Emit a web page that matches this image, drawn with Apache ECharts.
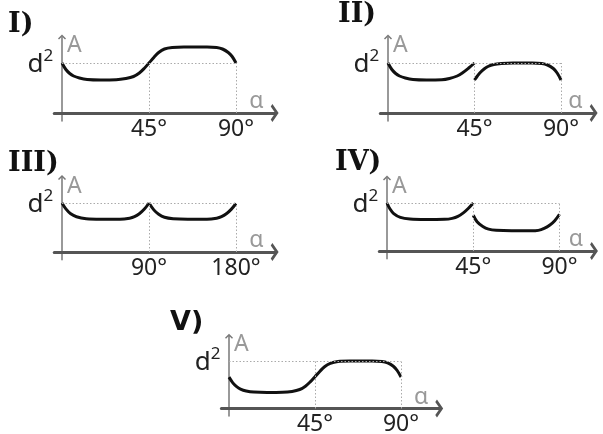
<!DOCTYPE html>
<html>
<head>
<meta charset="utf-8">
<script src="https://cdn.jsdelivr.net/npm/echarts@6/dist/echarts.min.js"></script>
<style>
  html, body { margin: 0; padding: 0; background: #fff; }
  #chart { width: 603px; height: 434px; }
</style>
</head>
<body>
<div id="chart"></div>
<script>
// panel titles
const panelNames = ['I)', 'II)', 'III)', 'IV)', 'V)'];

// tick labels on the α axis
const ticksQuarter = [45, 90];
const ticksHalf = [90, 180];
const levelD2 = 1;

// curves: [α in degrees, A in units of d²]
const curveI = [[0, 1.0], [2, 0.87], [4, 0.79], [6, 0.74], [9, 0.7], [13, 0.67], [20, 0.66], [28, 0.665], [33, 0.69], [37, 0.73], [40, 0.8], [42.5, 0.89], [45, 1.0], [47.5, 1.11], [50, 1.21], [53, 1.28], [57, 1.31], [63, 1.32], [75, 1.32], [80, 1.31], [83, 1.28], [86, 1.21], [88, 1.13], [90, 1.0]];

const curveIIa = [[0, 1.0], [2, 0.87], [4, 0.79], [6, 0.74], [9, 0.7], [13, 0.67], [20, 0.66], [28, 0.665], [32, 0.69], [36, 0.74], [39, 0.81], [42, 0.9], [45, 1.0]];
const curveIIb = [[45, 0.66], [46.5, 0.74], [48, 0.81], [50, 0.88], [52, 0.93], [55, 0.97], [59, 0.99], [65, 1.0], [75, 1.0], [80, 0.99], [83, 0.96], [86, 0.89], [88, 0.8], [90, 0.66]];

const curveIIIa = [[0, 1.0], [4, 0.88], [9, 0.78], [15, 0.72], [25, 0.68], [40, 0.67], [60, 0.67], [70, 0.69], [75, 0.72], [80, 0.78], [85, 0.87], [90, 1.0]];
const curveIIIb = [[90, 1.0], [95, 0.86], [100, 0.77], [106, 0.71], [115, 0.68], [130, 0.67], [150, 0.67], [160, 0.69], [165, 0.72], [170, 0.78], [175, 0.87], [180, 0.99]];

const curveIVa = [[0, 1.0], [1.5, 0.88], [3.5, 0.78], [7, 0.7], [12, 0.665], [20, 0.655], [30, 0.66], [34, 0.68], [37, 0.72], [40, 0.8], [42.5, 0.89], [45, 1.0]];
const curveIVb = [[45, 0.745], [47, 0.61], [50, 0.51], [53, 0.455], [57, 0.43], [65, 0.42], [75, 0.42], [79, 0.43], [82, 0.47], [85, 0.54], [87.5, 0.63], [90, 0.765]];

const curveV = [[0, 0.66], [2, 0.54], [4, 0.46], [6, 0.41], [9, 0.37], [13, 0.345], [20, 0.335], [28, 0.34], [33, 0.36], [37, 0.4], [40, 0.47], [42.5, 0.56], [45, 0.67], [47.5, 0.78], [50, 0.88], [53, 0.95], [57, 0.99], [63, 1.0], [75, 1.0], [80, 0.99], [83, 0.96], [86, 0.89], [88, 0.8], [90, 0.66]];

// where each little plot sits (pixel anchors of the origin, last tick and the d² level)
const panels = [
  { segs: [curveI], ticks: ticksQuarter, x0: 62, xTick: 236, y0: 113, y1: 63, xMin: -4, xMax: 110, tx: 8, ty: 11, serif: true },
  { segs: [curveIIa, curveIIb], ticks: ticksQuarter, x0: 388, xTick: 561, y0: 113, y1: 63, xMin: -4, xMax: 107, tx: 338, ty: 1, serif: true },
  { segs: [curveIIIa, curveIIIb], ticks: ticksHalf, x0: 62, xTick: 236, y0: 252, y1: 203, xMin: -8, xMax: 220, tx: 8, ty: 150, serif: true },
  { segs: [curveIVa, curveIVb], ticks: ticksQuarter, x0: 387, xTick: 559.5, y0: 251, y1: 203, xMin: -4, xMax: 108, tx: 335, ty: 149, serif: true },
  { segs: [curveV], ticks: ticksQuarter, x0: 229, xTick: 401, y0: 408.5, y1: 361, xMin: -4, xMax: 110, tx: 170, ty: 309, serif: false }
];
const yMin = -0.16, yMax = 1.52;

const chevronX = 'path://M8,0 L16,5.5 L13.8,7 L8,3 L2.2,7 L0,5.5 Z';
const chevronY = 'path://M4,0 L8,4 L7,5 L4,2 L1,5 L0,4 Z';
const font = 'Noto Sans';

const grids = [], xAxes = [], yAxes = [], series = [], titles = [];

panels.forEach((p, i) => {
  const last = p.ticks[p.ticks.length - 1];
  const s = (p.xTick - p.x0) / last;
  const u = p.y0 - p.y1;
  grids.push({
    left: p.x0 + p.xMin * s,
    width: (p.xMax - p.xMin) * s,
    top: p.y0 - yMax * u,
    height: (yMax - yMin) * u,
    containLabel: false,
    outerBoundsMode: 'none'
  });
  xAxes.push({
    gridIndex: i, type: 'value', min: p.xMin, max: p.xMax,
    name: 'α', nameLocation: 'end', nameGap: -11,
    nameTextStyle: { color: '#999', fontSize: 23, fontFamily: font, align: 'right', verticalAlign: 'bottom' },
    axisLine: { onZero: true, symbol: ['none', chevronX], symbolSize: [18, 8], lineStyle: { color: '#555', width: 3 } },
    axisTick: { show: false },
    splitLine: { show: false },
    axisLabel: { customValues: p.ticks, formatter: v => v + '°', color: '#222', fontSize: 23, fontFamily: font, margin: -3 }
  });
  yAxes.push({
    gridIndex: i, type: 'value', min: yMin, max: yMax,
    name: 'A', nameLocation: 'end', nameGap: 3,
    nameTextStyle: { color: '#999', fontSize: 23, fontFamily: font, align: 'left', verticalAlign: 'top', padding: [0, 0, 0, 5] },
    axisLine: { onZero: true, symbol: ['none', chevronY], symbolSize: [8, 5], lineStyle: { color: '#777', width: 1.5 } },
    axisTick: { show: false },
    splitLine: { show: false },
    axisLabel: {
      customValues: [levelD2], formatter: () => '{b|d}{s|2}', margin: 1,
      rich: {
        b: { color: '#222', fontSize: 26, fontFamily: font, padding: [4, 0, 0, 0] },
        s: { color: '#222', fontSize: 17, fontFamily: font, verticalAlign: 'top' }
      }
    }
  });
  p.segs.forEach((seg, k) => {
    const ser = {
      type: 'line', xAxisIndex: i, yAxisIndex: i, data: seg,
      smooth: 0.35, showSymbol: false, silent: true,
      lineStyle: { color: '#111', width: 3 }
    };
    if (k === 0) {
      ser.markLine = {
        silent: true, symbol: 'none', label: { show: false },
        lineStyle: { color: '#aaa', width: 1, type: [1.5, 2] },
        data: [[{ coord: [0, levelD2] }, { coord: [last, levelD2] }]].concat(
          p.ticks.map(t => [{ coord: [t, 0] }, { coord: [t, levelD2] }]))
      };
    }
    series.push(ser);
  });
  titles.push({
    text: panelNames[i], left: p.tx, top: p.ty, padding: 0,
    textStyle: { fontFamily: p.serif ? 'DejaVu Serif' : 'DejaVu Sans', fontWeight: 'bold', fontSize: 27, color: '#111' }
  });
});

const chart = echarts.init(document.getElementById('chart'), null, { renderer: 'canvas' });
chart.setOption({
  animation: false,
  backgroundColor: '#fff',
  title: titles,
  grid: grids,
  xAxis: xAxes,
  yAxis: yAxes,
  series: series
});
</script>
</body>
</html>
